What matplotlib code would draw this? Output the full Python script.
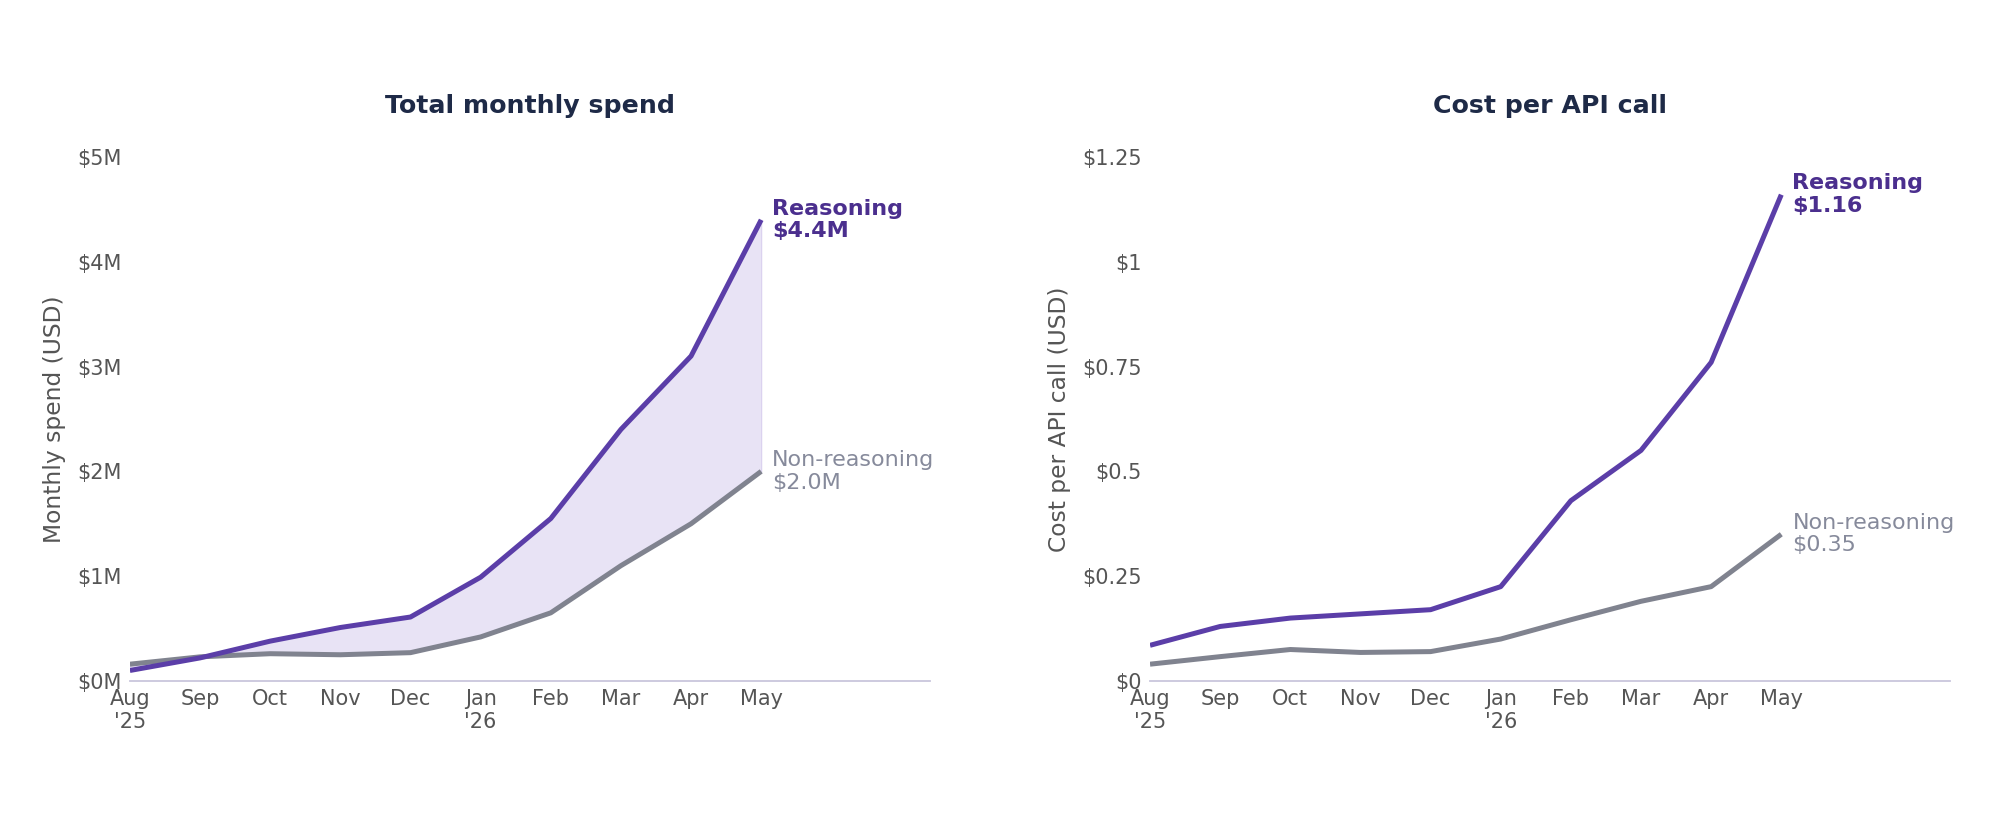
import matplotlib.pyplot as plt
from matplotlib.ticker import FuncFormatter

# data
months = ["Aug\n'25", "Sep", "Oct", "Nov", "Dec", "Jan\n'26", "Feb", "Mar", "Apr", "May"]
spend_reasoning = [0.10, 0.22, 0.38, 0.51, 0.61, 0.99, 1.55, 2.40, 3.10, 4.40]   # $M
spend_nonreasoning = [0.16, 0.23, 0.26, 0.25, 0.27, 0.42, 0.65, 1.10, 1.50, 2.00]  # $M
cost_reasoning = [0.085, 0.13, 0.15, 0.16, 0.17, 0.225, 0.43, 0.55, 0.76, 1.16]
cost_nonreasoning = [0.04, 0.058, 0.075, 0.068, 0.07, 0.10, 0.146, 0.19, 0.225, 0.35]

PURPLE = "#5b3ea8"
PURPLE_TXT = "#4b2f8e"
GREY = "#80838f"
GREY_TXT = "#868a9b"
TITLE = "#1e2a47"
TICK = "#555555"

plt.rcParams['font.family'] = ['DejaVu Sans']

fig = plt.figure(figsize=(19.99, 8.23), dpi=100)
ax1 = fig.add_axes([0.065, 0.1726, 0.40, 0.6367])
ax2 = fig.add_axes([0.5753, 0.1726, 0.40, 0.6367])

x = list(range(len(months)))


def style(ax, title, ylabel):
    for s in ["top", "right", "left"]:
        ax.spines[s].set_visible(False)
    ax.spines["bottom"].set_color("#c9c6dc")
    ax.spines["bottom"].set_linewidth(1.3)
    ax.tick_params(length=0, labelsize=15, colors=TICK, pad=6)
    ax.set_xticks(x)
    ax.set_xticklabels(months)
    ax.set_xlim(0, 11.4)
    ax.set_title(title, fontsize=18.2, fontweight="bold", color=TITLE, pad=32)
    ax.set_ylabel(ylabel, fontsize=16.8, color=TICK, labelpad=8)


def label_end(ax, text, yval, color, bold=False):
    ax.annotate(text, (x[-1], yval), xytext=(8, 0), textcoords="offset points",
                va="center", ha="left", fontsize=16, color=color,
                fontweight="bold" if bold else "normal", linespacing=1.15)


# left: total monthly spend
ax1.fill_between(x, spend_nonreasoning, spend_reasoning, color="#7b5cc4", alpha=0.17, lw=1)
ax1.plot(x, spend_nonreasoning, color=GREY, lw=3.6, solid_capstyle="butt")
ax1.plot(x, spend_reasoning, color=PURPLE, lw=3.6, solid_capstyle="butt")
ax1.set_ylim(0, 5)
ax1.set_yticks([0, 1, 2, 3, 4, 5])
ax1.yaxis.set_major_formatter(FuncFormatter(lambda v, p: f"${v:.0f}M"))
style(ax1, "Total monthly spend", "Monthly spend (USD)")
label_end(ax1, f"Reasoning\n${spend_reasoning[-1]:.1f}M", spend_reasoning[-1], PURPLE_TXT, True)
label_end(ax1, f"Non-reasoning\n${spend_nonreasoning[-1]:.1f}M", spend_nonreasoning[-1], GREY_TXT)

# right: cost per API call
ax2.plot(x, cost_nonreasoning, color=GREY, lw=3.6, solid_capstyle="butt")
ax2.plot(x, cost_reasoning, color=PURPLE, lw=3.6, solid_capstyle="butt")
ax2.set_ylim(0, 1.25)
ax2.set_yticks([0, 0.25, 0.5, 0.75, 1, 1.25])
ax2.yaxis.set_major_formatter(FuncFormatter(lambda v, p: "$" + f"{v:g}"))
style(ax2, "Cost per API call", "Cost per API call (USD)")
label_end(ax2, f"Reasoning\n${cost_reasoning[-1]:.2f}", cost_reasoning[-1], PURPLE_TXT, True)
label_end(ax2, f"Non-reasoning\n${cost_nonreasoning[-1]:.2f}", cost_nonreasoning[-1], GREY_TXT)

fig.savefig("out.png", dpi=100, facecolor="white")
